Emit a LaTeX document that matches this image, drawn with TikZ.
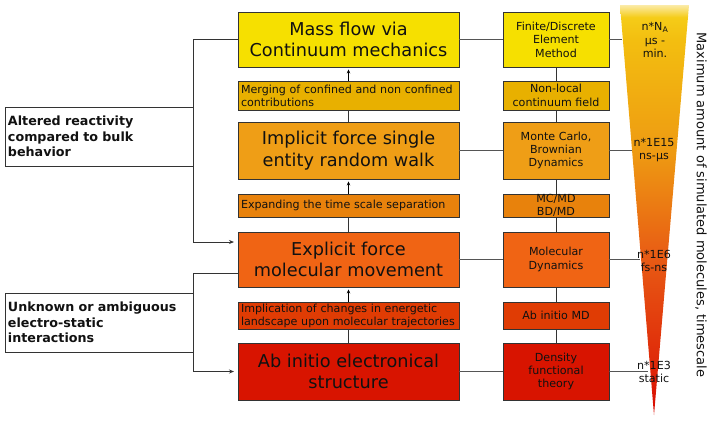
\documentclass[tikz,border=0pt]{standalone}
\usepackage{fontspec}
\setmainfont{DejaVu Sans}
\usetikzlibrary{arrows.meta}
\definecolor{cA}{HTML}{F6E000}
\definecolor{cB}{HTML}{E8B000}
\definecolor{cC}{HTML}{EF9E16}
\definecolor{cD}{HTML}{E8820C}
\definecolor{cE}{HTML}{F06414}
\definecolor{cF}{HTML}{E03C04}
\definecolor{cG}{HTML}{D81400}
\definecolor{bordc}{HTML}{333333}
\definecolor{linec}{HTML}{555555}
\definecolor{txt}{HTML}{111111}
\definecolor{t0}{HTML}{FBEBA8}
\definecolor{t1}{HTML}{F5CC18}
\definecolor{t2}{HTML}{F3BE10}
\definecolor{t3}{HTML}{EE9A12}
\definecolor{t4}{HTML}{E85A14}
\definecolor{t5}{HTML}{DE2408}
\definecolor{t6}{HTML}{D80800}
\pgfdeclareverticalshading{trishade}{100bp}{color(0bp)=(t6); color(25bp)=(t6); color(30bp)=(t5); color(44bp)=(t4); color(57bp)=(t3); color(70.7bp)=(t2); color(73.5bp)=(t1); color(75bp)=(t0); color(100bp)=(t0)}
\tikzset{
  boxbase/.style={draw=bordc, line width=0.9pt, inner sep=0pt, text=txt},
  mainbox/.style={boxbase, minimum width=221pt, align=center, font=\fontsize{17.7}{21.5}\selectfont},
  notebox/.style={boxbase, text width=215pt, inner xsep=3pt, align=left, font=\fontsize{11.1}{13}\selectfont},
  sidebox/.style={boxbase, minimum width=106pt, align=center, font=\fontsize{11.1}{13.4}\selectfont},
  labelbox/.style={boxbase, text width=182pt, inner xsep=3pt, align=left, font=\bfseries\fontsize{12.7}{15.5}\selectfont},
  tritext/.style={align=center, inner sep=0pt, text=txt, font=\fontsize{11.1}{13.4}\selectfont},
  conn/.style={draw=linec, line width=1.4pt},
  brk/.style={draw=bordc, line width=0.9pt},
  upar/.style={draw=black, line width=0.8pt, -{Stealth[length=4pt,width=3.5pt]}, shorten >=2pt},
  brkar/.style={brk, -{Stealth[length=5pt,width=4pt]}, shorten >=4pt}
}
\begin{document}
\begin{tikzpicture}[x=1pt,y=-1pt]
\useasboundingbox (0,0) rectangle (717,421);
% triangle
\shade[shading=trishade] (620,5) -- (689,5) -- (654,415) -- cycle;
% main column
\node[mainbox, fill=cA, minimum height=55pt] (m1) at (348.5,39.5) {Mass flow via\\Continuum mechanics};
\node[notebox, fill=cB, minimum height=29pt] (m2) at (348.5,95.5) {Merging of confined and non confined\\contributions};
\node[mainbox, fill=cC, minimum height=57pt] (m3) at (348.5,150.5) {Implicit force single\\entity random walk};
\node[notebox, fill=cD, minimum height=23pt] (m4) at (348.5,205.5) {Expanding the time scale separation};
\node[mainbox, fill=cE, minimum height=55pt] (m5) at (348.5,259.5) {Explicit force\\molecular movement};
\node[notebox, fill=cF, minimum height=27pt] (m6) at (348.5,315.5) {Implication of changes in energetic\\landscape upon molecular trajectories};
\node[mainbox, fill=cG, minimum height=57pt] (m7) at (348.5,371.5) {Ab initio electronical\\structure};
% side column
\node[sidebox, fill=cA, minimum height=55pt] (r1) at (556,39.5) {Finite/Discrete\\Element\\Method};
\node[sidebox, fill=cB, minimum height=29pt] (r2) at (556,95.5) {Non-local\\continuum field};
\node[sidebox, fill=cC, minimum height=57pt] (r3) at (556,150.5) {Monte Carlo,\\Brownian\\Dynamics};
\node[sidebox, fill=cD, minimum height=23pt] (r4) at (556,205.5) {MC/MD\\BD/MD};
\node[sidebox, fill=cE, minimum height=55pt] (r5) at (556,259.5) {Molecular\\Dynamics};
\node[sidebox, fill=cF, minimum height=27pt] (r6) at (556,315.5) {Ab initio MD};
\node[sidebox, fill=cG, minimum height=57pt] (r7) at (556,371.5) {Density\\functional\\theory};
% left labels
\node[labelbox, minimum height=59pt] (l1) at (99,136.5) {Altered reactivity\\compared to bulk\\behavior};
\node[labelbox, minimum height=59pt] (l2) at (99,322.5) {Unknown or ambiguous\\electro-static\\interactions};
% vertical chain
\draw[upar] (m2.north) -- (m1.south);
\draw[brk] (m3.north) -- (m2.south);
\draw[upar] (m4.north) -- (m3.south);
\draw[brk] (m5.north) -- (m4.south);
\draw[upar] (m6.north) -- (m5.south);
\draw[brk] (m7.north) -- (m6.south);
\draw[brk] (r1) -- (r2) -- (r3) -- (r4) -- (r5) -- (r6) -- (r7);
% horizontal connectors
\draw[conn] (m1.east) -- (r1.west);
\draw[conn] (m3.east) -- (r3.west);
\draw[conn] (m5.east) -- (r5.west);
\draw[conn] (m7.east) -- (r7.west);
\coordinate (e1) at (622,39.5);
\coordinate (e3) at (632,150.5);
\coordinate (e5) at (640,259.5);
\coordinate (e7) at (648,371.5);
\draw[conn] (r1.east) -- (e1);
\draw[conn] (r3.east) -- (e3);
\draw[conn] (r5.east) -- (e5);
\draw[conn] (r7.east) -- (e7);
% brackets
\coordinate (a1) at (238,242);
\coordinate (b1) at (238,273);
\draw[brkar] (m1.west) -| (l1.east) |- (a1);
\coordinate (a2) at (238,371.5);
\draw[brkar] (b1) -| (l2.east) |- (a2);
% triangle texts
\node[tritext] (n1) at (655,40) {n*N\textsubscript{A}\\μs -\\min.};
\node[tritext] (n3) at (654,150) {n*1E15\\ns-μs};
\node[tritext] (n5) at (654,261) {n*1E6\\fs-ns};
\node[tritext] (n7) at (654,372) {n*1E3\\static};
% rotated axis text
\node[rotate=-90, inner sep=0pt, text=txt, font=\fontsize{13}{15}\selectfont] (ax) at (701,205) {Maximum amount of simulated molecules, timescale};
\end{tikzpicture}
\end{document}
